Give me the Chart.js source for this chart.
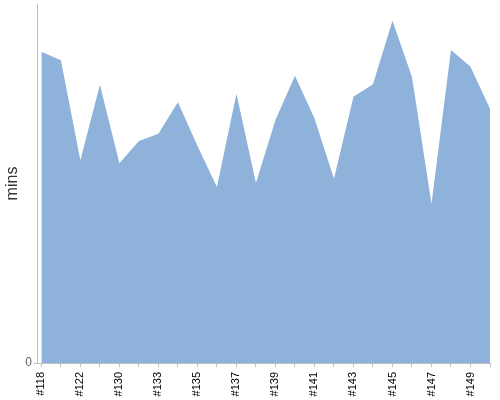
<!DOCTYPE html>
<html><head><meta charset="utf-8">
<script src="https://cdn.jsdelivr.net/npm/chart.js@4"></script>
<style>html,body{margin:0;padding:0;background:#fff}#w{width:500px;height:400px}</style>
</head><body><div id="w"><canvas id="c"></canvas></div>
<script>
const builds = ['#118','#120','#122','#126','#130','#132','#133','#134','#135','#136','#137','#138','#139','#140','#141','#142','#143','#144','#145','#146','#147','#148','#149','#150'];
const minutes = [52.0,50.6,33.9,46.5,33.4,37.1,38.3,43.6,36.3,29.4,45.0,30.1,40.6,48.0,40.9,30.8,44.5,46.6,57.2,47.8,26.6,52.3,49.5,42.5];
const yMax = 60;

const points = minutes.map((v,i)=>({x:i,y:v}));
Chart.defaults.font.family = '"Liberation Sans", Arial, sans-serif';
new Chart(document.getElementById('c'), {
  type: 'line',
  data: { datasets: [{ data: points, fill: 'origin', backgroundColor: '#8fb2da', borderWidth: 0, pointRadius: 0, tension: 0 }] },
  options: {
    responsive: true, maintainAspectRatio: false, animation: false,
    layout: { padding: { top: 4, right: 10, left: 3, bottom: 0 } },
    plugins: { legend: { display: false }, tooltip: { enabled: false } },
    scales: {
      x: {
        type: 'linear', min: -0.18, max: builds.length - 1,
        border: { color: '#c0c0c0' },
        grid: { drawOnChartArea: false, drawTicks: true, tickLength: 4, color: '#c0c0c0' },
        afterFit: (axis) => { axis.paddingLeft = 0; axis.paddingRight = 0; axis.height = 37; },
        ticks: {
          stepSize: 1, includeBounds: false, autoSkip: false, minRotation: 90, maxRotation: 90,
          color: '#000', font: { size: 11 }, padding: 5,
          callback: (v) => (Number.isInteger(v) && v % 2 === 0) ? builds[v] : (Number.isInteger(v) ? '' : null)
        }
      },
      y: {
        min: 0, max: yMax,
        border: { color: '#c0c0c0' },
        grid: { drawOnChartArea: false, drawTicks: true, tickLength: 4, color: '#c0c0c0' },
        afterBuildTicks: (axis) => { axis.ticks = [{ value: 0 }]; },
        afterFit: (axis) => { axis.paddingTop = 0; axis.paddingBottom = 0; },
        ticks: { color: '#666', font: { size: 12 }, padding: 2,
          callback: (v) => v === 0 ? '0' : null },
        title: { display: true, text: 'mins', color: '#333', font: { size: 16 }, padding: { top: 0, bottom: 1 } }
      }
    }
  }
});
</script></body></html>
